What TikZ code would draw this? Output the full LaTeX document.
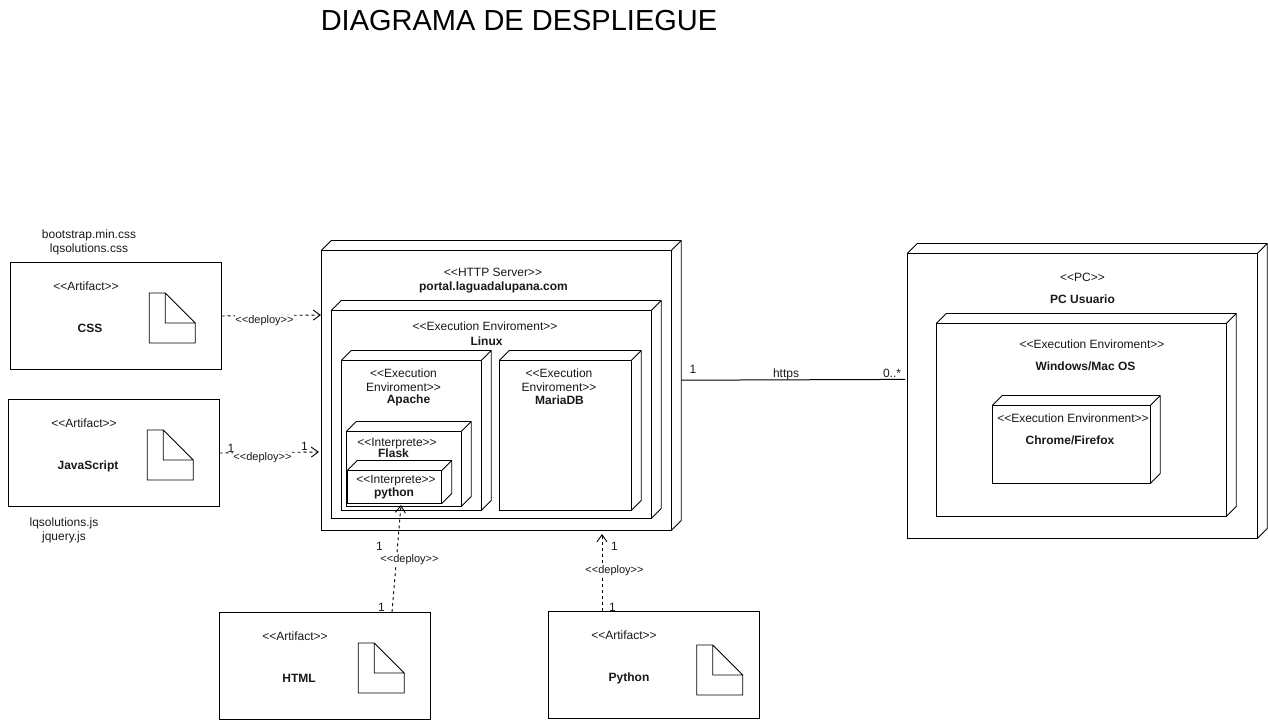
\documentclass[tikz,border=0pt]{standalone}
\usepackage{fontspec}
\setmainfont{Liberation Sans}[Ligatures=TeXOff]
\usetikzlibrary{arrows.meta}
\newcommand{\cubenode}[5]{%
  \node[cubeface, minimum width=#4pt, minimum height=#5pt, anchor=north west] (#1) at (#2,#3) {};
  \draw[edge] (#1.north west) -- ([shift={(10pt,10pt)}]#1.north west)
    -- ([shift={(10pt,10pt)}]#1.north east) -- ([shift={(10pt,10pt)}]#1.south east) -- (#1.south east)
    (#1.north east) -- ([shift={(10pt,10pt)}]#1.north east);
}
\newcommand{\artifactnode}[7]{%
  \node[cubeface, minimum width=211pt, minimum height=107pt, anchor=north west] (#1) at (#2,#3) {};
  \draw[edge] (#4,#5) -- ++(16,0) -- ++(30,30) -- ++(0,20) -- ++(-46,0) -- cycle
    (#4+16,#5) -- ++(0,30) -- ++(30,0);
  \node[txt] (#1s) at (#2+75.5,#3+23.5) {<<Artifact>>};
  \node[bld] (#1n) at (#6,#7) {#1};
}
\tikzset{
  x=1pt, y=-1pt,
  edge/.style={draw=black, line width=0.9pt, line join=miter},
  cubeface/.style={draw=black, fill=white, line width=0.9pt, inner sep=0pt, outer sep=0pt, rectangle},
  txt/.style={font=\fontsize{12}{14}\selectfont, align=center, inner sep=0pt, text=black!90},
  bld/.style={txt, font=\fontsize{12}{14}\selectfont\bfseries},
  deploytxt/.style={font=\fontsize{11}{13}\selectfont, inner sep=0.5pt, fill=white, text=black!90},
  depline/.style={line width=0.9pt, dash pattern=on 3pt off 3pt, -{Straight Barb[length=7pt,width=10pt,line width=0.9pt]}},
}
\begin{document}
\begin{tikzpicture}
\useasboundingbox (0,0) rectangle (1268,721);
\node[font=\fontsize{29}{34}\selectfont, inner sep=0pt] (title) at (519,21) {DIAGRAMA DE DESPLIEGUE};

% artifacts
\artifactnode{CSS}{10.5}{262.5}{149.2}{293}{90}{328}
\artifactnode{JavaScript}{8.5}{399.5}{147.2}{430}{88}{466.2}
\artifactnode{HTML}{219.5}{612.5}{358.2}{643}{299}{678}
\artifactnode{Python}{548.5}{611.5}{696.7}{645}{629}{678.2}
\node[txt] (cssfiles) at (89,242) {bootstrap.min.css\\lqsolutions.css};
\node[txt] (jsfiles) at (64,530) {lqsolutions.js\\jquery.js};

% server
\cubenode{server}{321.2}{250.5}{350}{280}
\node[txt] (serverS) at (493,272) {<<HTTP Server>>};
\node[bld] (serverN) at (493.5,287.2) {portal.laguadalupana.com};
\cubenode{linux}{331.2}{310.5}{320}{208}
\node[txt] (linuxS) at (485,326) {<<Execution Enviroment>>};
\node[bld] (linuxN) at (486.5,341) {Linux};
\cubenode{apache}{341.2}{360.5}{140}{150}
\node[txt] (apacheS) at (403.5,380) {<<Execution\\Enviroment>>};
\node[bld] (apacheN) at (408.5,400) {Apache};
\cubenode{maria}{499.2}{360.5}{132}{150}
\node[txt] (mariaS) at (559,380) {<<Execution\\Enviroment>>};
\node[bld] (mariaN) at (559.5,400) {MariaDB};
\cubenode{flask}{346.2}{431.5}{115}{75}
\node[txt] (flaskS) at (397,444) {<<Interprete>>};
\node[bld] (flaskN) at (393.5,453) {Flask};
\cubenode{pythonint}{347.2}{470.5}{94.5}{33}
\node[txt] (pyS) at (396,481) {<<Interprete>>};
\node[bld] (pyN) at (394,493) {python};

% pc
\cubenode{pc}{907.2}{253.5}{350}{285}
\node[txt] (pcS) at (1082.5,277) {<<PC>>};
\node[bld] (pcN) at (1082.5,299) {PC Usuario};
\cubenode{win}{936.2}{323.5}{290}{193}
\node[txt] (winS) at (1092,344) {<<Execution Enviroment>>};
\node[bld] (winN) at (1085.5,366) {Windows/Mac OS};
\cubenode{chrome}{992.2}{405.5}{158}{78}
\node[txt] (chromeS) at (1073,418) {<<Execution Environment>>};
\node[bld] (chromeN) at (1070,440) {Chrome/Firefox};

% connector ends
\coordinate (cssEnd) at (321,315);
\coordinate (jsEnd) at (319,452);
\coordinate (htmlStart) at (392,612);
\coordinate (htmlEnd) at (401,505);
\coordinate (pyStart) at (602,611);
\coordinate (pyEnd) at (602,534);
\coordinate (httpsStart) at (681,380.2);
\coordinate (httpsEnd) at (905,379.4);

\draw[depline] (CSS.east) -- (cssEnd);
\draw[depline] (JavaScript.east) -- (jsEnd);
\draw[depline] (htmlStart) -- (htmlEnd);
\draw[depline] (pyStart) -- (pyEnd);
\draw[line width=1pt] (httpsStart) -- (httpsEnd);

\node[deploytxt] (d1) at (264.5,321) {<<deploy>>};
\node[deploytxt] (d2) at (262.5,458) {<<deploy>>};
\node[deploytxt] (d3) at (409.5,560) {<<deploy>>};
\node[deploytxt] (d4) at (614.5,571) {<<deploy>>};

\node[txt] (m1) at (231,448) {1};
\node[txt] (m2) at (304.5,446) {1};
\node[txt] (m3) at (379.5,546) {1};
\node[txt] (m4) at (381.5,607) {1};
\node[txt] (m5) at (614.5,546) {1};
\node[txt] (m6) at (612.5,607) {1};
\node[txt] (m7) at (693,369) {1};
\node[txt] (httpsL) at (786,374) {https};
\node[txt] (m8) at (892,373) {0..*};
\end{tikzpicture}
\end{document}
